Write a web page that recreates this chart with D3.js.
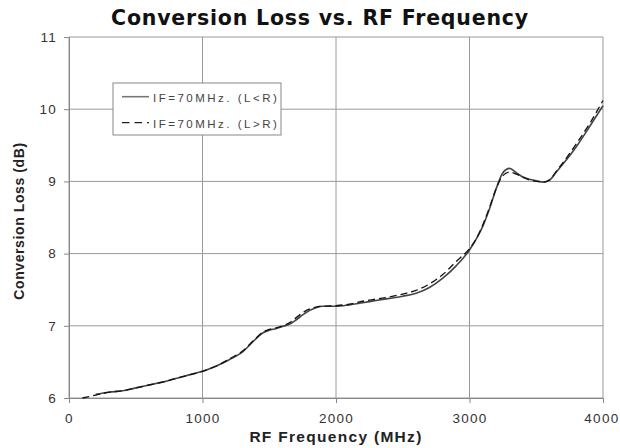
<!DOCTYPE html>
<html><head><meta charset="utf-8">
<script src="https://cdn.jsdelivr.net/npm/d3@7"></script>
<style>body{margin:0;background:#fff}svg{display:block}</style>
</head><body>
<svg id="c" width="620" height="448"></svg>
<script>
const freqSolid = [200,300,400,500,600,700,800,900,1000,1100,1200,1300,1400,1450,1500,1550,1600,1650,1700,1750,1800,1850,1900,2000,2100,2200,2300,2400,2500,2600,2700,2800,2900,3000,3050,3100,3150,3200,3250,3300,3350,3400,3450,3500,3550,3600,3650,3700,3800,3900,4000];
const lossLtR = [6.05,6.08,6.10,6.14,6.18,6.22,6.27,6.32,6.37,6.44,6.53,6.64,6.82,6.90,6.94,6.96,6.99,7.02,7.08,7.15,7.21,7.25,7.27,7.27,7.29,7.32,7.35,7.38,7.41,7.45,7.53,7.66,7.83,8.05,8.20,8.38,8.62,8.90,9.12,9.18,9.12,9.06,9.03,9.01,8.99,9.02,9.13,9.24,9.48,9.76,10.05];
const freqDashed = [100,200,300,400,500,600,700,800,900,1000,1100,1200,1300,1400,1450,1500,1550,1600,1650,1700,1750,1800,1850,1900,2000,2100,2200,2300,2400,2500,2600,2700,2800,2900,3000,3050,3100,3150,3200,3250,3300,3350,3400,3450,3500,3550,3600,3650,3700,3800,3900,4000];
const lossLgR = [6.00,6.04,6.08,6.10,6.14,6.18,6.22,6.27,6.32,6.37,6.44,6.54,6.65,6.83,6.91,6.95,6.97,7.00,7.04,7.11,7.18,7.23,7.26,7.27,7.28,7.30,7.34,7.37,7.40,7.44,7.49,7.58,7.71,7.89,8.07,8.20,8.40,8.64,8.90,9.08,9.13,9.10,9.06,9.02,9.00,8.99,9.02,9.14,9.26,9.52,9.80,10.12];
const xTicks = [0,1000,2000,3000,4000];
const yTicks = [6,7,8,9,10,11];
const seriesNames = ["IF=70MHz. (L<R)","IF=70MHz. (L>R)"];

const svg = d3.select("#c");
const x = d3.scaleLinear().domain([0,4000]).range([69,603]);
const y = d3.scaleLinear().domain([6,11]).range([398,37]);
const font = "'Liberation Sans', Arial, sans-serif";

// grid
svg.append("g").selectAll("line").data(xTicks).join("line")
  .attr("x1",d=>x(d)).attr("x2",d=>x(d)).attr("y1",y(11)).attr("y2",y(6))
  .attr("stroke","#9a9a9a").attr("stroke-width",1);
svg.append("g").selectAll("line").data(yTicks).join("line")
  .attr("x1",x(0)).attr("x2",x(4000)).attr("y1",d=>y(d)).attr("y2",d=>y(d))
  .attr("stroke","#9a9a9a").attr("stroke-width",1);

// axes
const xAxis = svg.append("g").attr("transform",`translate(0,${y(6)})`)
  .call(d3.axisBottom(x).tickValues(xTicks).tickSize(5).tickPadding(10).tickFormat(d3.format("d")));
const yAxis = svg.append("g").attr("transform",`translate(${x(0)},0)`)
  .call(d3.axisLeft(y).tickValues(yTicks).tickSize(5).tickPadding(7).tickFormat(d3.format("d")));
[xAxis,yAxis].forEach(a=>{
  a.select(".domain").attr("stroke","#888");
  a.selectAll(".tick line").attr("stroke","#888");
  a.selectAll("text").attr("font-family",font).attr("font-size",13.5).attr("fill","#333").style("letter-spacing","1.3px");
});
// keep the last x label inside the page
xAxis.selectAll(".tick text").filter(d=>d===4000).attr("text-anchor","end").attr("dx",16);

// lines
const line = d3.line().x(d=>x(d[0])).y(d=>y(d[1])).curve(d3.curveMonotoneX);
svg.append("path").datum(d3.zip(freqSolid,lossLtR)).attr("d",line)
  .attr("fill","none").attr("stroke","#444").attr("stroke-width",1.6);
svg.append("path").datum(d3.zip(freqDashed,lossLgR)).attr("d",line)
  .attr("fill","none").attr("stroke","#111").attr("stroke-width",1.3).attr("stroke-dasharray","7,4");

// legend
const lg = svg.append("g");
lg.append("rect").attr("x",113).attr("y",83).attr("width",168).attr("height",52)
  .attr("fill","#fff").attr("stroke","#888").attr("stroke-width",1);
const styles = [{c:"#777",w:1.6,da:null},{c:"#222",w:1.3,da:"7.5,5"}];
seriesNames.forEach((n,i)=>{
  const yy = 96.7 + i*26;
  lg.append("line").attr("x1",122).attr("x2",149).attr("y1",yy).attr("y2",yy)
    .attr("stroke",styles[i].c).attr("stroke-width",styles[i].w).attr("stroke-dasharray",styles[i].da);
  lg.append("text").attr("x",153).attr("y",yy+5).text(n)
    .attr("font-family",font).attr("font-size",11.5).attr("fill","#444").style("letter-spacing","2.5px");
});

// titles
svg.append("text").attr("x",320).attr("y",25).attr("text-anchor","middle")
  .attr("font-family","'DejaVu Sans', Verdana, sans-serif").attr("font-weight","bold").attr("font-size",20.5)
  .style("letter-spacing","0.8px").attr("fill","#111").text("Conversion Loss vs. RF Frequency");
svg.append("text").attr("x",336).attr("y",442).attr("text-anchor","middle")
  .attr("font-family",font).attr("font-weight","bold").attr("font-size",15.5).style("letter-spacing","1.3px")
  .attr("fill","#222").text("RF Frequency (MHz)");
svg.append("text").attr("transform","translate(23.5,221) rotate(-90)").attr("text-anchor","middle")
  .attr("font-family",font).attr("font-weight","bold").attr("font-size",14).style("letter-spacing","0.6px")
  .attr("fill","#222").text("Conversion Loss (dB)");
</script>
</body></html>
